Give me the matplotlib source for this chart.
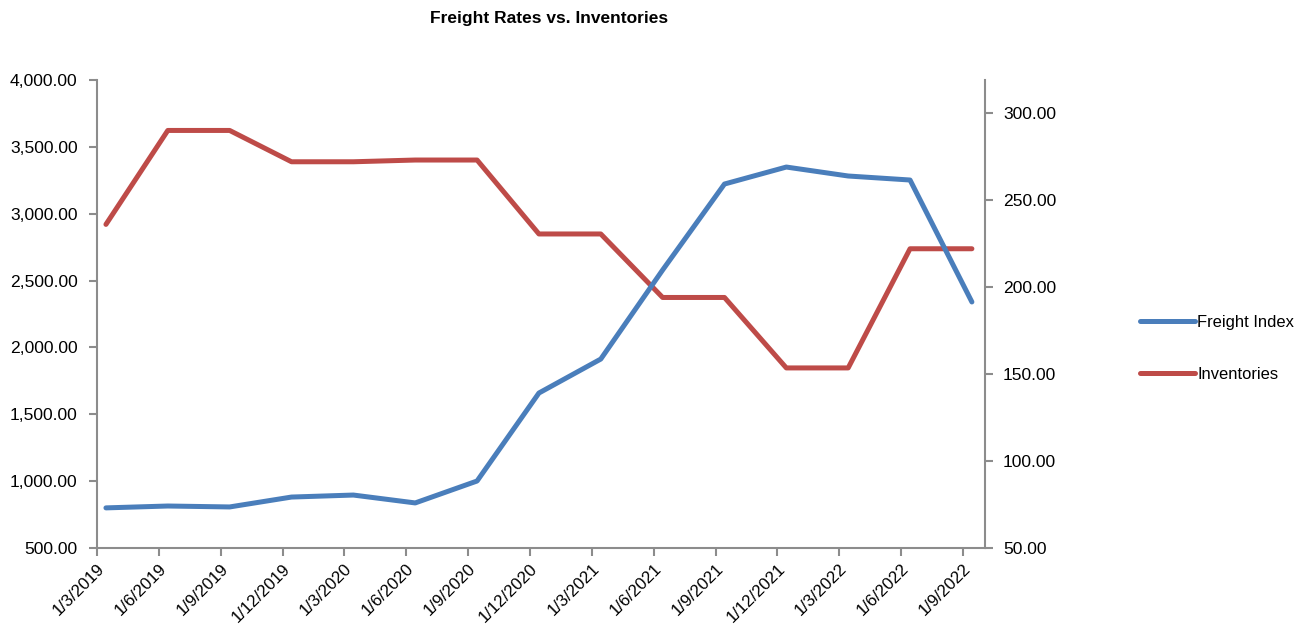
import matplotlib
matplotlib.use("Agg")
import numpy as np
import matplotlib.pyplot as plt
from matplotlib.ticker import FuncFormatter, MultipleLocator
import matplotlib.transforms as mtrans

plt.rcParams['font.family'] = ['Liberation Sans', 'DejaVu Sans']

dates = ["1/3/2019", "1/6/2019", "1/9/2019", "1/12/2019", "1/3/2020", "1/6/2020",
         "1/9/2020", "1/12/2020", "1/3/2021", "1/6/2021", "1/9/2021", "1/12/2021",
         "1/3/2022", "1/6/2022", "1/9/2022"]
freight = [800, 814, 807, 881, 896, 837, 1001, 1659, 1913, 2579, 3222, 3349, 3282, 3252, 2340]
inventories = [236, 290, 290, 272, 272, 273, 273, 230.5, 230.5, 194, 194, 153.5, 153.5, 222, 222]

blue = "#4A7EBB"
red = "#BE4B48"
grey = "#8C8C8C"

fig = plt.figure(figsize=(13, 6.24), dpi=100)
ax = fig.add_axes([0.0746, 0.1218, 0.683, 0.75])
ax2 = ax.twinx()

x = np.arange(len(dates))
xd = x + 0.145
ax.plot(xd, freight, color=blue, lw=3.6, solid_capstyle='round', label="Freight Index", zorder=3)
ax2.plot(xd, inventories, color=red, lw=3.6, solid_capstyle='round', label="Inventories")
ax.set_zorder(ax2.get_zorder() + 1)
ax.patch.set_visible(False)

ax.set_xlim(0, 14.355)
ax.set_ylim(500, 4000)
ax2.set_ylim(50, 319)
ax.yaxis.set_major_locator(MultipleLocator(500))
ax2.yaxis.set_major_locator(MultipleLocator(50))
fmt = FuncFormatter(lambda v, p: f"{v:,.2f}")
ax.yaxis.set_major_formatter(fmt)
ax2.yaxis.set_major_formatter(fmt)

ax.set_xticks(x)
ax.set_xticklabels(dates, rotation=45, ha='right', rotation_mode='anchor')
offset = mtrans.ScaledTranslation(16 / 100, -6 / 100, fig.dpi_scale_trans)
for lbl in ax.get_xticklabels():
    lbl.set_transform(lbl.get_transform() + offset)

for a in (ax, ax2):
    for s in a.spines.values():
        s.set_visible(False)
    a.tick_params(colors=grey, labelcolor='black', labelsize=12.6, length=6, width=1.5, direction='out')
ax.spines['left'].set_visible(True)
ax.spines['bottom'].set_visible(True)
ax2.spines['right'].set_visible(True)
for s in (ax.spines['left'], ax.spines['bottom'], ax2.spines['right']):
    s.set_color(grey)
    s.set_linewidth(1.5)
ax.tick_params(axis='y', pad=8)
ax2.tick_params(axis='y', pad=7)
ax.tick_params(axis='x', labelsize=12.2)

fig.text(0.422, 0.97, "Freight Rates vs. Inventories", ha='center', va='center',
         fontsize=12.5, fontweight='bold')

h1, l1 = ax.get_legend_handles_labels()
h2, l2 = ax2.get_legend_handles_labels()
fig.legend(h1 + h2, l1 + l2, loc='center left', bbox_to_anchor=(0.877, 0.442),
           frameon=False, fontsize=11.9, handlelength=3.3, handletextpad=0.15,
           labelspacing=2.25, borderaxespad=0, borderpad=0)

fig.savefig("out.png", dpi=100)
